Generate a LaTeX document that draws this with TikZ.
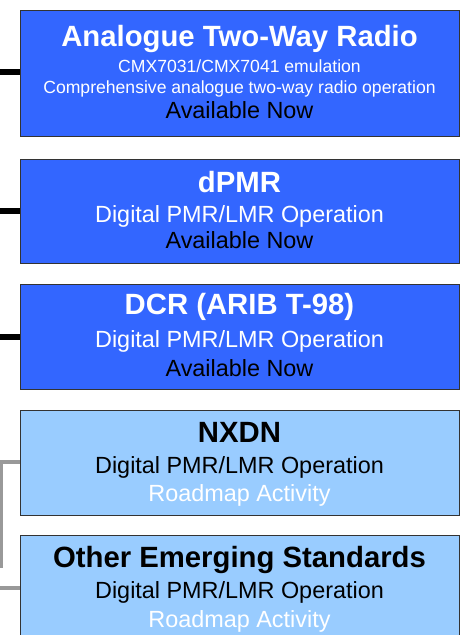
\documentclass[tikz,border=0pt]{standalone}
\usepackage{fontspec}
\setmainfont{Liberation Sans}
\definecolor{boxblue}{HTML}{3366FF}
\definecolor{boxlight}{HTML}{99CCFF}
\definecolor{boxedge}{HTML}{333333}
\definecolor{linkgray}{HTML}{999999}
\begin{document}
\begin{tikzpicture}[x=1pt,y=-1pt,
  box/.style={draw=boxedge, line width=1.2pt, rectangle, anchor=north west, minimum width=439pt, inner sep=0pt},
  darkbox/.style={box, fill=boxblue},
  lightbox/.style={box, fill=boxlight},
  ttl/.style={anchor=base, inner sep=0pt, font=\fontsize{29.3}{30}\selectfont\bfseries},
  sub/.style={anchor=base, inner sep=0pt, font=\fontsize{23.4}{24}\selectfont},
  small/.style={anchor=base, inner sep=0pt, font=\fontsize{17.6}{18}\selectfont},
  blackline/.style={line width=5.5pt, black},
  grayline/.style={line width=3.5pt, linkgray}]
\useasboundingbox (0,0) rectangle (465,635);
\fill[white] (0,0) rectangle (465,635);
% boxes
\node[darkbox, minimum height=126pt] (b1) at (20,10) {};
\node[darkbox, minimum height=104pt] (b2) at (20,159) {};
\node[darkbox, minimum height=105pt] (b3) at (20,284) {};
\node[lightbox, minimum height=105pt] (b4) at (20,410) {};
\node[lightbox, minimum height=115pt] (b5) at (20,535) {};
% box 1 text
\node[ttl, text=white] (t1) at (239.5,46) {Analogue Two-Way Radio};
\node[small, text=white] (s1a) at (239.5,72) {CMX7031/CMX7041 emulation};
\node[small, text=white] (s1b) at (239.5,93) {Comprehensive analogue two-way radio operation};
\node[sub, text=black] (a1) at (239.5,118) {Available Now};
% box 2 text
\node[ttl, text=white] (t2) at (239.5,192) {dPMR};
\node[sub, text=white] (s2) at (239.5,222) {Digital PMR/LMR Operation};
\node[sub, text=black] (a2) at (239.5,248) {Available Now};
% box 3 text
\node[ttl, text=white] (t3) at (239.5,314) {DCR (ARIB T-98)};
\node[sub, text=white] (s3) at (239.5,347) {Digital PMR/LMR Operation};
\node[sub, text=black] (a3) at (239.5,376) {Available Now};
% box 4 text
\node[ttl, text=black] (t4) at (239.5,442) {NXDN};
\node[sub, text=black] (s4) at (239.5,473) {Digital PMR/LMR Operation};
\node[sub, text=white] (r4) at (239.5,501) {Roadmap Activity};
% box 5 text
\node[ttl, text=black] (t5) at (239.5,567) {Other Emerging Standards};
\node[sub, text=black] (s5) at (239.5,598) {Digital PMR/LMR Operation};
\node[sub, text=white] (r5) at (239.5,627) {Roadmap Activity};
% connectors
\coordinate (c1) at (0,72);
\coordinate (c2) at (0,211);
\coordinate (c3) at (0,337);
\draw[blackline] (c1) -- (c1 -| b1.west);
\draw[blackline] (c2) -- (c2 -| b2.west);
\draw[blackline] (c3) -- (c3 -| b3.west);
\coordinate (c4) at (0,462);
\coordinate (v1) at (1.5,462);
\coordinate (v2) at (1.5,568);
\coordinate (c5) at (0,588);
\draw[grayline] (c4) -- (c4 -| b4.west);
\draw[grayline, line width=3pt] (v1) -- (v2);
\draw[grayline] (c5) -- (c5 -| b5.west);
\end{tikzpicture}
\end{document}
